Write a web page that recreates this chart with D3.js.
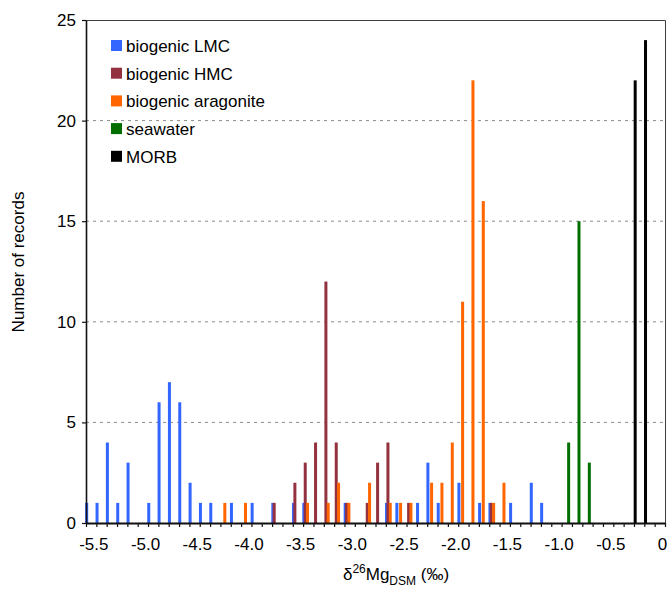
<!DOCTYPE html>
<html>
<head>
<meta charset="utf-8">
<script src="https://cdn.jsdelivr.net/npm/d3@7"></script>
<style>
  body { margin: 0; background: #fff; }
  text { font-family: "Liberation Sans", Arial, sans-serif; fill: #000; }
</style>
</head>
<body>
<script>
// histogram bins (delta 26Mg, per mil) and record counts, one pair of arrays per group
const lmcBins = [-5.6, -5.5, -5.4, -5.3, -5.2, -5.0, -4.9, -4.8, -4.7, -4.6, -4.5, -4.4, -4.2, -4.0, -3.8,
    -3.6, -3.5, -3.1, -2.7, -2.6, -2.4, -2.3, -2.2, -2.0, -1.8, -1.7, -1.5, -1.3, -1.2];
const lmcCounts = [1, 1, 4, 1, 3, 1, 6, 7, 6, 2, 1, 1, 1, 1, 1,
    1, 1, 1, 1, 1, 1, 3, 1, 2, 1, 1, 1, 2, 1];

const hmcBins = [-3.8, -3.6, -3.5, -3.4, -3.3, -3.2, -3.1, -2.9, -2.8, -2.7, -2.5, -1.7];
const hmcCounts = [1, 2, 3, 4, 12, 4, 1, 1, 3, 4, 1, 1];

const aragoniteBins = [-4.3, -4.1, -3.5, -3.3, -3.2, -3.1, -2.9, -2.7, -2.6, -2.5, -2.3, -2.2, -2.1,
    -2.0, -1.9, -1.8, -1.7, -1.6];
const aragoniteCounts = [1, 1, 1, 1, 2, 1, 2, 1, 1, 1, 2, 2, 4, 11, 22, 16, 1, 2];

const seawaterBins = [-0.9, -0.8, -0.7];
const seawaterCounts = [4, 15, 3];

const morbBins = [-0.3, -0.2];
const morbCounts = [22, 24];

const seriesNames = ['biogenic LMC', 'biogenic HMC', 'biogenic aragonite', 'seawater', 'MORB'];
const xTickLabels = ['-5.5', '-5.0', '-4.5', '-4.0', '-3.5', '-3.0', '-2.5', '-2.0', '-1.5', '-1.0', '-0.5', '0'];
const yTickValues = [0, 5, 10, 15, 20, 25];

// styling
const colors = ['#3366ff', '#93323e', '#ff6600', '#006f00', '#000000'];
const barShift = [0.7, 2.1, 4.4, -3.3, 1.2]; // where each group sits inside a 0.1 bin (px)

let series = [
    {bins: lmcBins, counts: lmcCounts},
    {bins: hmcBins, counts: hmcCounts},
    {bins: aragoniteBins, counts: aragoniteCounts},
    {bins: seawaterBins, counts: seawaterCounts},
    {bins: morbBins, counts: morbCounts}
].map((s, i) => ({
    name: seriesNames[i],
    color: colors[i],
    shift: barShift[i],
    values: s.bins.map((b, j) => ({bin: b, count: s.counts[j]}))
}));

let svg = d3.select('body').append('svg')
    .attr('width', 669)
    .attr('height', 589);

let x = d3.scaleLinear().domain([-5.6, 0]).range([86, 665]);
let y = d3.scaleLinear().domain([0, 25]).range([523, 20]);

// dashed grid
svg.append('g')
    .selectAll('line')
    .data(yTickValues.filter(v => v > 0 && v < 25))
    .enter()
    .append('line')
    .attr('x1', x(-5.6))
    .attr('x2', x(0))
    .attr('y1', d => y(d))
    .attr('y2', d => y(d))
    .attr('stroke', '#8a8a8a')
    .attr('stroke-width', 1)
    .attr('stroke-dasharray', '3,4');

// frame: top and right edges
svg.append('path')
    .attr('d', `M${x(-5.6)},${y(25) + 0.5}H${x(0) + 0.5}V${y(0)}`)
    .attr('fill', 'none')
    .attr('stroke', '#404040')
    .attr('stroke-width', 1);

// bars
series.forEach(s => {
    svg.append('g')
        .attr('class', 'series')
        .selectAll('rect')
        .data(s.values)
        .enter()
        .append('rect')
        .attr('x', d => x(d.bin) + s.shift - 1.5)
        .attr('width', 3)
        .attr('y', d => y(d.count))
        .attr('height', d => y(0) - y(d.count))
        .attr('fill', s.color);
});

// x axis
let binTicks = d3.range(-56, 1).map(k => k / 10);
let xAxis = d3.axisBottom(x)
    .tickValues(binTicks)
    .tickSize(4)
    .tickPadding(11)
    .tickSizeOuter(0)
    .tickFormat(d => {
        let label = d === 0 ? '0' : d.toFixed(1);
        return xTickLabels.includes(label) ? label : '';
    });
let gx = svg.append('g')
    .attr('transform', `translate(0,${y(0)})`)
    .call(xAxis);
gx.select('.domain').attr('stroke', '#111').attr('stroke-width', 2);
gx.selectAll('.tick line').attr('stroke', '#111').attr('stroke-width', 1.2);
gx.selectAll('.tick text')
    .attr('dx', -3)
    .style('font-size', '17px');

// y axis
let yAxis = d3.axisLeft(y)
    .tickValues(yTickValues)
    .tickSize(4)
    .tickPadding(6)
    .tickSizeOuter(0);
let gy = svg.append('g')
    .attr('transform', `translate(${x(-5.6)},0)`)
    .call(yAxis);
gy.select('.domain').attr('stroke', '#111').attr('stroke-width', 1.6);
gy.selectAll('.tick line').attr('stroke', '#111').attr('stroke-width', 1.2);
gy.selectAll('.tick text').style('font-size', '17px');

// axis titles
let xTitle = svg.append('text')
    .attr('x', 396)
    .attr('y', 580)
    .attr('text-anchor', 'middle')
    .style('font-size', '17px');
xTitle.append('tspan').text('δ');
xTitle.append('tspan').attr('dy', -7).style('font-size', '12px').text('26');
xTitle.append('tspan').attr('dy', 7).text('Mg');
xTitle.append('tspan').attr('dy', 5).style('font-size', '12px').text('DSM');
xTitle.append('tspan').attr('dy', -5).text(' (‰)');

svg.append('text')
    .attr('transform', 'translate(24,262) rotate(-90)')
    .attr('text-anchor', 'middle')
    .style('font-size', '17px')
    .text('Number of records');

// legend
let legend = svg.append('g')
    .attr('class', 'legend')
    .attr('transform', 'translate(111,40)');
let items = legend.selectAll('g')
    .data(series)
    .enter()
    .append('g')
    .attr('transform', (d, i) => `translate(0,${i * 27.7})`);
items.append('rect')
    .attr('width', 11)
    .attr('height', 11)
    .attr('fill', d => d.color);
items.append('text')
    .attr('x', 15)
    .attr('y', 6)
    .attr('dy', '0.35em')
    .style('font-size', '17px')
    .text(d => d.name);
</script>
</body>
</html>
